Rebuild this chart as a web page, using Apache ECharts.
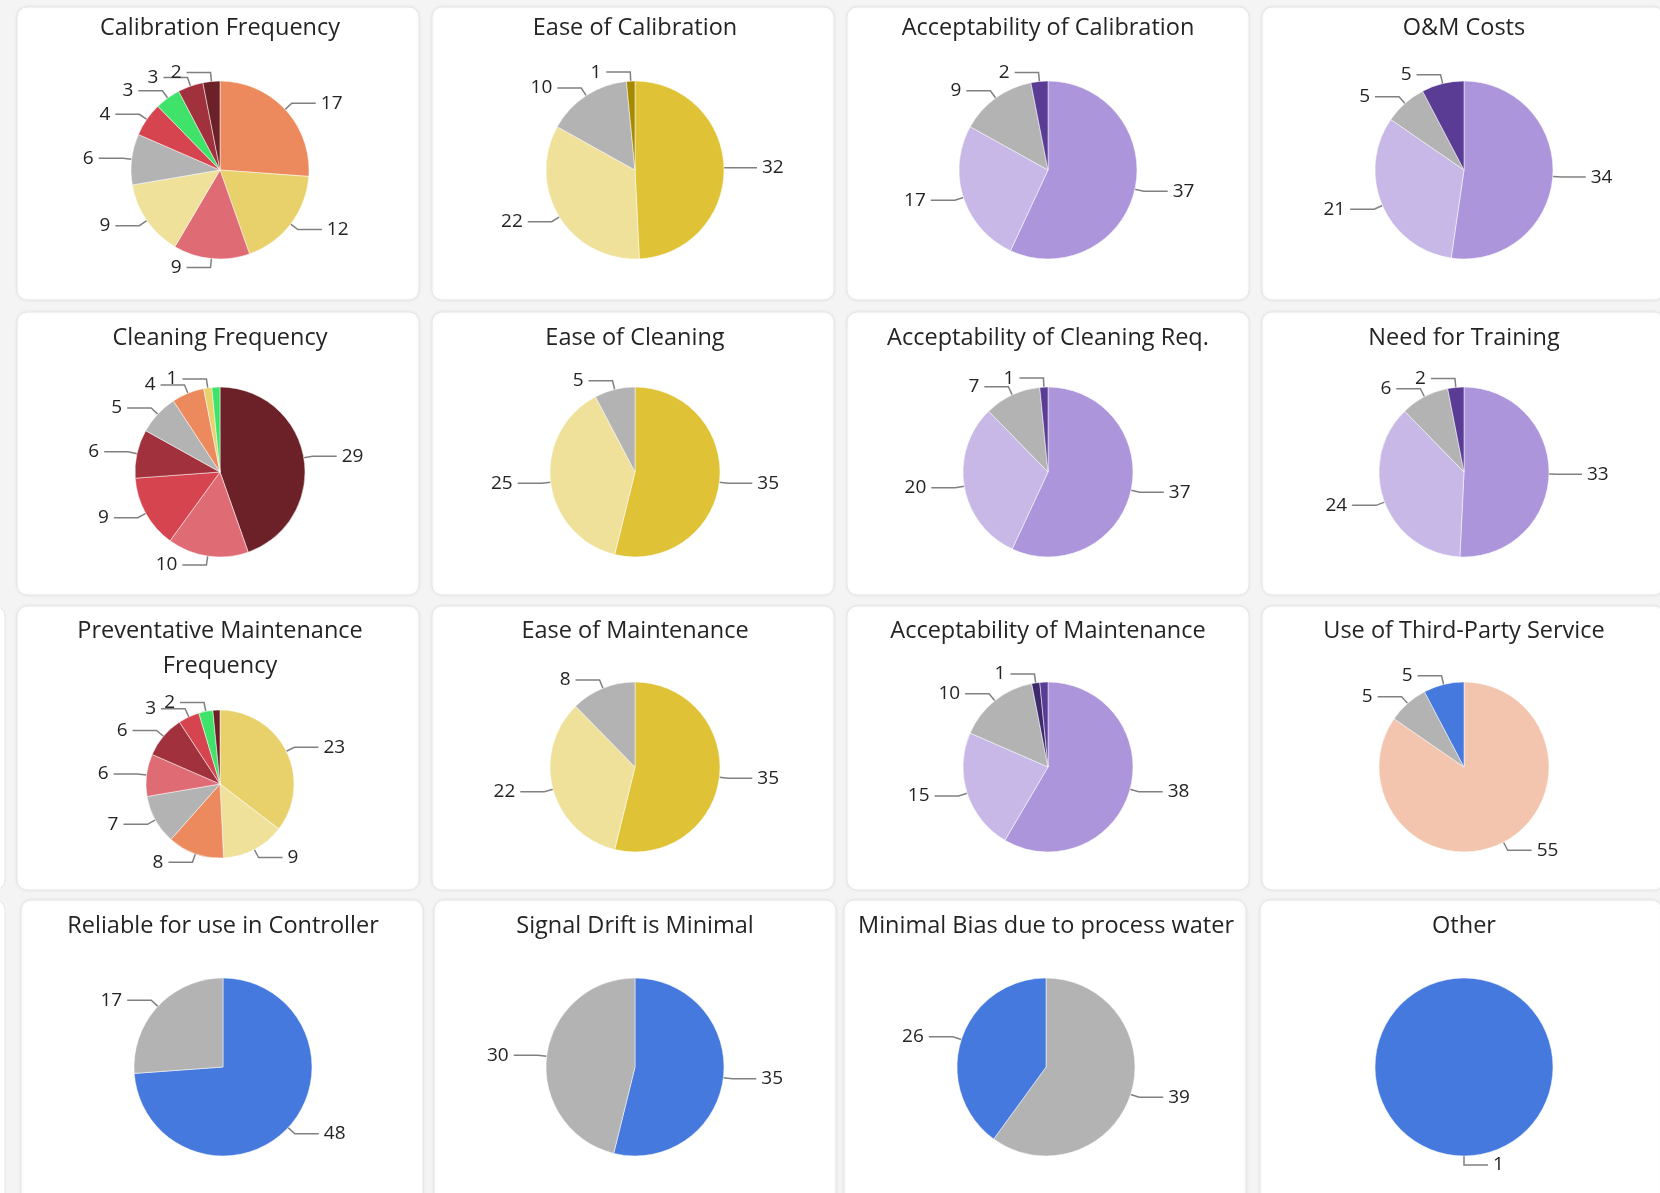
<!DOCTYPE html>
<html>
<head>
<meta charset="utf-8">
<script src="https://cdn.jsdelivr.net/npm/echarts@6/dist/echarts.min.js"></script>
<style>
  html, body { margin: 0; padding: 0; background: #f4f4f4; }
  #main { width: 1660px; height: 1193px; }
</style>
</head>
<body>
<div id="main"></div>
<script>
// survey answers per question, clockwise from 12 o'clock
const calibrationFrequency = [17, 12, 9, 9, 6, 4, 3, 3, 2];
const easeOfCalibration = [32, 22, 10, 1];
const acceptCalibration = [37, 17, 9, 2];
const omCosts = [34, 21, 5, 5];

const cleaningFrequency = [29, 10, 9, 6, 5, 4, 1, 1];
const easeOfCleaning = [35, 25, 5];
const acceptCleaning = [37, 20, 7, 1];
const needForTraining = [33, 24, 6, 2];

const pmFrequency = [23, 9, 8, 7, 6, 6, 3, 2, 1];
const easeOfMaintenance = [35, 22, 8];
const acceptMaintenance = [38, 15, 10, 1, 1];
const thirdParty = [55, 5, 5];

const reliableController = [48, 17];
const signalDrift = [35, 30];
const minimalBias = [39, 26];
const other = [1];

const titles = [
  'Calibration Frequency', 'Ease of Calibration', 'Acceptability of Calibration', 'O&M Costs',
  'Cleaning Frequency', 'Ease of Cleaning', 'Acceptability of Cleaning Req.', 'Need for Training',
  'Preventative Maintenance\nFrequency', 'Ease of Maintenance', 'Acceptability of Maintenance', 'Use of Third-Party Service',
  'Reliable for use in Controller', 'Signal Drift is Minimal', 'Minimal Bias due to process water', 'Other'
];

// colours
const orange = '#ec8a5e', yellow = '#e8d06a', pink = '#df6b74', paleYellow = '#efe09a',
  gray = '#b3b3b3', red = '#d6444f', green = '#40e36a', darkRed = '#a1313d', maroon = '#6b2127',
  gold = '#e0c236', darkGold = '#a58a00', purple = '#ac95da', lilac = '#c8b8e7',
  indigo = '#5a3c94', deepIndigo = '#3c2a6d', blue = '#4579dd', peach = '#f3c4ae';

const charts = [
  { data: calibrationFrequency, colors: [orange, yellow, pink, paleYellow, gray, red, green, darkRed, maroon], hide: [] },
  { data: easeOfCalibration, colors: [gold, paleYellow, gray, darkGold], hide: [] },
  { data: acceptCalibration, colors: [purple, lilac, gray, indigo], hide: [] },
  { data: omCosts, colors: [purple, lilac, gray, indigo], hide: [] },
  { data: cleaningFrequency, colors: [maroon, pink, red, darkRed, gray, orange, yellow, green], hide: [7] },
  { data: easeOfCleaning, colors: [gold, paleYellow, gray], hide: [] },
  { data: acceptCleaning, colors: [purple, lilac, gray, indigo], hide: [] },
  { data: needForTraining, colors: [purple, lilac, gray, indigo], hide: [] },
  { data: pmFrequency, colors: [yellow, paleYellow, orange, gray, pink, darkRed, red, green, maroon], hide: [8] },
  { data: easeOfMaintenance, colors: [gold, paleYellow, gray], hide: [] },
  { data: acceptMaintenance, colors: [purple, lilac, gray, deepIndigo, indigo], hide: [4] },
  { data: thirdParty, colors: [peach, gray, blue], hide: [] },
  { data: reliableController, colors: [blue, gray], hide: [] },
  { data: signalDrift, colors: [blue, gray], hide: [] },
  { data: minimalBias, colors: [gray, blue], hide: [] },
  { data: other, colors: [blue], hide: [] }
];

// layout of the 4x4 tile grid (the bottom row sits slightly offset)
const colX = [[220, 635, 1048, 1464], [220, 635, 1048, 1464], [220, 635, 1048, 1464], [223, 635, 1046, 1464]];
const cardX = [[17, 432, 847, 1262], [17, 432, 847, 1262], [17, 432, 847, 1262], [21, 434, 844, 1260]];
const cardTop = [7, 312, 606, 900];
const cardBottom = [300, 595, 890, 1210];
const pieY = [170, 472, 767, 1067];
const pieR = [89, 85, 85, 89];
const titleY = [28, 338, 631, 926];

const font = "'Segoe UI', 'Open Sans', 'Noto Sans', sans-serif";
const myChart = echarts.init(document.getElementById('main'));

const cards = [];
for (let r = 0; r < 4; r++) {
  for (let c = 0; c < 4; c++) {
    cards.push({
      type: 'rect', silent: true,
      shape: { x: cardX[r][c], y: cardTop[r], width: 402, height: cardBottom[r] - cardTop[r], r: 10 },
      style: { fill: '#fff', stroke: '#e6e6e6', lineWidth: 1, shadowBlur: 4, shadowColor: 'rgba(0,0,0,0.06)' }
    });
  }
}
// partial tiles peeking in on the left of the lower rows
[2, 3].forEach(r => cards.push({
  type: 'rect', silent: true,
  shape: { x: -400, y: cardTop[r], width: 405, height: cardBottom[r] - cardTop[r], r: 10 },
  style: { fill: '#fff', stroke: '#e6e6e6', lineWidth: 1 }
}));

const option = {
  animation: false,
  backgroundColor: '#f4f4f4',
  graphic: cards,
  title: titles.map((t, i) => ({
    text: t,
    left: colX[Math.floor(i / 4)][i % 4],
    top: titleY[Math.floor(i / 4)] - 17,
    textAlign: 'center',
    padding: 0,
    textStyle: { fontFamily: font, fontSize: 23.5, fontWeight: 'normal', color: '#252423', lineHeight: 35 }
  })),
  series: charts.map((c, i) => {
    const row = Math.floor(i / 4);
    const isPm = i === 8;
    return {
      type: 'pie',
      silent: true,
      center: [colX[row][i % 4], isPm ? 784 : pieY[row]],
      radius: isPm ? 74 : pieR[row],
      startAngle: 90,
      clockwise: true,
      avoidLabelOverlap: false,
      label: { show: true, position: 'outside', formatter: '{c}', color: '#252423', fontSize: 19, fontFamily: font },
      labelLine: { show: true, length: 9, length2: 24, lineStyle: { color: '#808080', width: 1.5 } },
      itemStyle: { borderColor: '#fff', borderWidth: 0.5 },
      data: c.data.map((v, k) => ({
        value: v,
        name: 'q' + i + '_' + k,
        itemStyle: { color: c.colors[k] },
        label: { show: !c.hide.includes(k) },
        labelLine: { show: !c.hide.includes(k) }
      }))
    };
  })
};

myChart.setOption(option);
</script>
</body>
</html>
